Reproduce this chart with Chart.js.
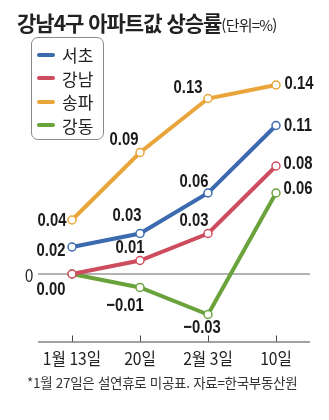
<!DOCTYPE html>
<html lang="ko">
<head>
<meta charset="utf-8">
<script src="https://cdn.jsdelivr.net/npm/chart.js@4"></script>
<style>
  body { margin: 0; background: #fff; }
  #wrap { position: relative; width: 329px; height: 420px; overflow: hidden; }
  #chart { position: absolute; left: 0; top: 0; }
  .title { position: absolute; left: 17px; top: 10px; line-height: 24px; white-space: nowrap; color: #222;
    font-family: 'Noto Sans CJK KR', sans-serif; }
  .title b { font-size: 21px; letter-spacing: -1px; }
  .title span { font-size: 15px; letter-spacing: -0.8px; }
  #legend { position: absolute; left: 31px; top: 37px; width: 73px; height: 103px; box-sizing: border-box;
    border: 1px solid #8a8a8a; border-radius: 7px; padding-top: 5px; background: #fff; }
  #legend div { height: 23.5px; display: flex; align-items: center; font-size: 17px; color: #222;
    font-family: 'Noto Sans CJK KR', sans-serif; }
  #legend i { display: inline-block; width: 18px; height: 4px; border-radius: 2px; margin: 0 7px 0 5px; }
  .note { position: absolute; left: 27px; top: 372px; font-size: 13.5px; color: #333; white-space: nowrap; letter-spacing: -0.3px;
    font-family: 'Noto Sans CJK KR', sans-serif; }
</style>
</head>
<body>
<div id="wrap">
  <canvas id="chart" width="329" height="420"></canvas>
  <div class="title"><b>강남4구 아파트값 상승률</b><span>(단위=%)</span></div>
  <div id="legend"></div>
  <div class="note">*1월 27일은 설연휴로 미공표. 자료=한국부동산원</div>
</div>
<script>
// 주간 상승률 (%)
const weeks = ['1월 13일', '20일', '2월 3일', '10일']
const seocho = [0.02, 0.03, 0.06, 0.11]
const gangnam = [0.00, 0.01, 0.03, 0.08]
const songpa = [0.04, 0.09, 0.13, 0.14]
const gangdong = [0.00, -0.01, -0.03, 0.06]

const colors = {
  서초: '#3b6aae',
  강남: '#cd4d5f',
  송파: '#e9a53a',
  강동: '#6aa23c',
}

// 값 라벨 위치 (점 기준 dx, dy), null 이면 생략
const labelPos = {
  서초: [[-21, 4], [-13, -18], [-14, -11], [22, 0]],
  강남: [[-21, 16], [-10, -13], [-14, -13], [22, -2]],
  송파: [[-20, 1], [-16, -13], [-20, -11], [23, -1]],
  강동: [null, [-15, 18], [-6, 13], [22, -4]],
}

const series = [
  ['서초', seocho],
  ['강남', gangnam],
  ['송파', songpa],
  ['강동', gangdong],
]

var legendEl = document.getElementById('legend')
series.forEach(function (s) {
  var row = document.createElement('div')
  row.innerHTML = '<i style="background:' + colors[s[0]] + '"></i>' + s[0]
  legendEl.appendChild(row)
})

const datasets = series.map(function (s) {
  return {
    label: s[0],
    data: s[1],
    borderColor: colors[s[0]],
    borderWidth: 4,
    pointRadius: 4,
    pointBorderWidth: 1.5,
    pointBackgroundColor: '#fff',
    pointBorderColor: colors[s[0]],
    tension: 0,
  }
})

const numFont = "'Liberation Sans', Arial, sans-serif"

// 좁은 숫자체 흉내: 가로로 눌러서 그림
function narrowText(ctx, txt, x, y, sx) {
  ctx.save()
  ctx.translate(x, y)
  ctx.scale(sx, 1)
  ctx.fillText(txt, 0, 0)
  ctx.restore()
}

// 0 기준선, x축, 눈금
const axisPlugin = {
  id: 'axisPlugin',
  beforeDatasetsDraw(chart) {
    const ctx = chart.ctx
    const x = chart.scales.x
    const y = chart.scales.y
    const area = chart.chartArea
    const y0 = y.getPixelForValue(0)
    ctx.save()
    ctx.strokeStyle = '#9a9a9a'
    ctx.lineWidth = 1.5
    ctx.beginPath()
    ctx.moveTo(area.left, y0)
    ctx.lineTo(area.right, y0)
    ctx.stroke()

    ctx.strokeStyle = '#444'
    ctx.lineWidth = 1
    ctx.beginPath()
    ctx.moveTo(area.left, area.bottom + 0.5)
    ctx.lineTo(area.right, area.bottom + 0.5)
    weeks.forEach(function (w, i) {
      const px = Math.round(x.getPixelForValue(i)) + 0.5
      ctx.moveTo(px, area.bottom - 6)
      ctx.lineTo(px, area.bottom)
    })
    ctx.stroke()

    ctx.fillStyle = '#222'
    ctx.textAlign = 'center'
    ctx.textBaseline = 'middle'
    ctx.font = "17px 'Noto Sans CJK KR', sans-serif"
    weeks.forEach(function (w, i) {
      narrowText(ctx, w, x.getPixelForValue(i), area.bottom + 17, 0.92)
    })
    ctx.font = '18px ' + numFont
    narrowText(ctx, '0', area.left - 9, y0 + 3, 0.82)
    ctx.restore()
  },
}

// 점마다 값 표시
const valueLabels = {
  id: 'valueLabels',
  afterDatasetsDraw(chart) {
    const ctx = chart.ctx
    ctx.save()
    ctx.fillStyle = '#1a1a1a'
    ctx.font = 'bold 19px ' + numFont
    ctx.textAlign = 'center'
    ctx.textBaseline = 'middle'
    chart.data.datasets.forEach(function (ds, di) {
      const meta = chart.getDatasetMeta(di)
      meta.data.forEach(function (pt, i) {
        const off = labelPos[ds.label][i]
        if (!off) return
        const v = ds.data[i]
        const txt = (v < 0 ? '\u2212' : '') + Math.abs(v).toFixed(2)
        narrowText(ctx, txt, pt.x + off[0], pt.y + off[1], 0.78)
      })
    })
    ctx.restore()
  },
}

var chartEl = document.getElementById('chart').getContext('2d')
var chart = new Chart(chartEl, {
  type: 'line',
  data: { labels: weeks, datasets: datasets },
  options: {
    responsive: false,
    animation: false,
    devicePixelRatio: 1,
    layout: { padding: { left: 38, right: 19, top: 31, bottom: 78.5 } },
    scales: {
      x: { type: 'category', offset: true, display: false },
      y: { min: -0.05, max: 0.18, display: false },
    },
    plugins: {
      legend: { display: false },
      tooltip: { enabled: false },
    },
  },
  plugins: [axisPlugin, valueLabels],
})
</script>
</body>
</html>
